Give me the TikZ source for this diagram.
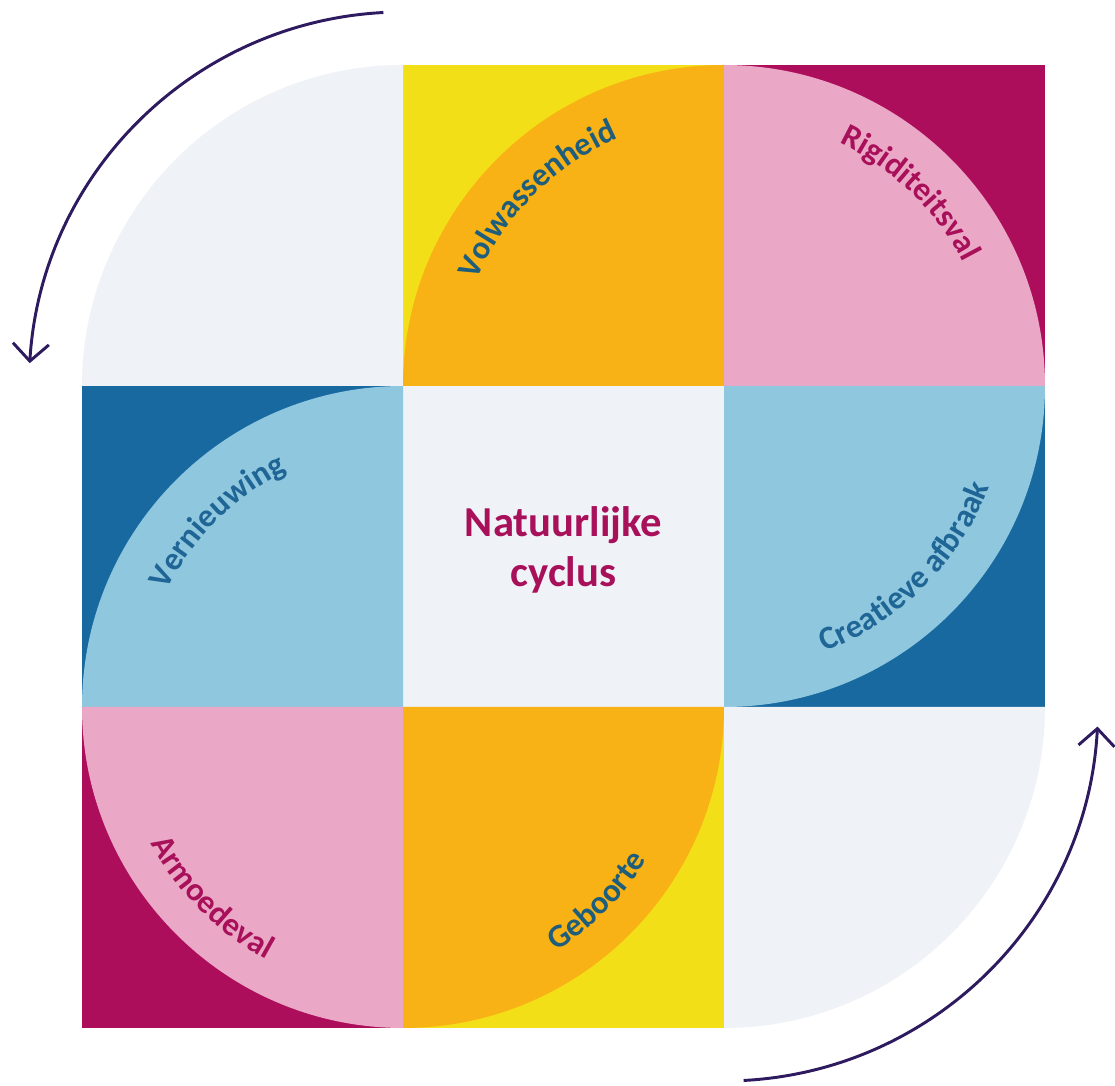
\documentclass[tikz,border=0pt]{standalone}
\usepackage{fontspec}
\setmainfont{Carlito}
\usetikzlibrary{decorations.text,arrows.meta}
\definecolor{cgray}{HTML}{EFF2F7}
\definecolor{cyellow}{HTML}{F3DF17}
\definecolor{corange}{HTML}{F8B215}
\definecolor{cmagenta}{HTML}{AD0E5C}
\definecolor{cpink}{HTML}{EAA8C6}
\definecolor{cdblue}{HTML}{1769A0}
\definecolor{clblue}{HTML}{8FC7DF}
\definecolor{carrow}{HTML}{2E1A5E}
\definecolor{tteal}{HTML}{1E5E7C}
\definecolor{tmag}{HTML}{A8105A}
\definecolor{tblue}{HTML}{1F6696}
\newcommand{\lblfont}{\bfseries\fontsize{24.5}{30}\selectfont}
\tikzset{
  cyclearrow/.style={draw=carrow, line width=2.2pt, -{Straight Barb[length=13pt,width=27pt,line width=2.2pt]}},
  arclabel/.style={decorate, decoration={text along path, text align=center, text color=#1}},
  title/.style={font=\bfseries\fontsize{32}{38}\selectfont, text=tmag, align=center}
}
\begin{document}
\begin{tikzpicture}[x=0.75pt,y=0.75pt]
\useasboundingbox (0,0) rectangle (1115,1086);
\fill[white] (0,0) rectangle (1115,1086);
% quarter-circle centres
\coordinate (A) at (403,700);
\coordinate (B) at (724,700);
\coordinate (C) at (403,379);
\coordinate (D) at (724,379);
% cell backgrounds
\fill[cyellow]  (403,700) rectangle (724,1021);
\fill[cmagenta] (724,700) rectangle (1045,1021);
\fill[cdblue]   (82,379)  rectangle (403,700);
\fill[cgray]    (403,379) rectangle (724,700);
\fill[cdblue]   (724,379) rectangle (1045,700);
\fill[cmagenta] (82,58)   rectangle (403,379);
\fill[cyellow]  (403,58)  rectangle (724,379);
% quarter circles
\fill[cgray]   (A) -- ++(90:321)  arc[start angle=90,  end angle=180, radius=321] -- cycle;
\fill[corange] (B) -- ++(90:321)  arc[start angle=90,  end angle=180, radius=321] -- cycle;
\fill[cpink]   (B) -- ++(0:321)   arc[start angle=0,   end angle=90,  radius=321] -- cycle;
\fill[clblue]  (C) -- ++(90:321)  arc[start angle=90,  end angle=180, radius=321] -- cycle;
\fill[clblue]  (B) -- ++(270:321) arc[start angle=270, end angle=360, radius=321] -- cycle;
\fill[cpink]   (C) -- ++(180:321) arc[start angle=180, end angle=270, radius=321] -- cycle;
\fill[corange] (C) -- ++(270:321) arc[start angle=270, end angle=360, radius=321] -- cycle;
\fill[cgray]   (D) -- ++(270:321) arc[start angle=270, end angle=360, radius=321] -- cycle;
% curved labels
\path[arclabel=tteal, decoration={text={|\lblfont|Volwassenheid}}]
  (B) ++(175:269) arc[start angle=175, end angle=95, radius=269];
\path[arclabel=tmag, decoration={text={|\lblfont|Rigiditeitsval}}]
  (B) ++(86:269) arc[start angle=86, end angle=6, radius=269];
\path[arclabel=tblue, decoration={text={|\lblfont|Vernieuwing}}]
  (C) ++(175:263) arc[start angle=175, end angle=95, radius=263];
\path[arclabel=tblue, decoration={text={|\lblfont|Creatieve afbraak}}]
  (B) ++(-90:284) arc[start angle=-90, end angle=0, radius=284];
\path[arclabel=tteal, decoration={text={|\lblfont|Geboorte}}]
  (C) ++(-90:288) arc[start angle=-90, end angle=0, radius=288];
\path[arclabel=tmag, decoration={text={|\lblfont|Armoedeval}}]
  (C) ++(180:287) arc[start angle=180, end angle=270, radius=287];
% centre title
\node[title] (titel) at (563.5,536) {Natuurlijke\\cyclus};
% cycle arrows
\draw[cyclearrow] (A) ++(93:374) arc[start angle=93, end angle=176.5, radius=374];
\draw[cyclearrow] (D) ++(273:374) arc[start angle=273, end angle=357, radius=374];
\end{tikzpicture}
\end{document}
